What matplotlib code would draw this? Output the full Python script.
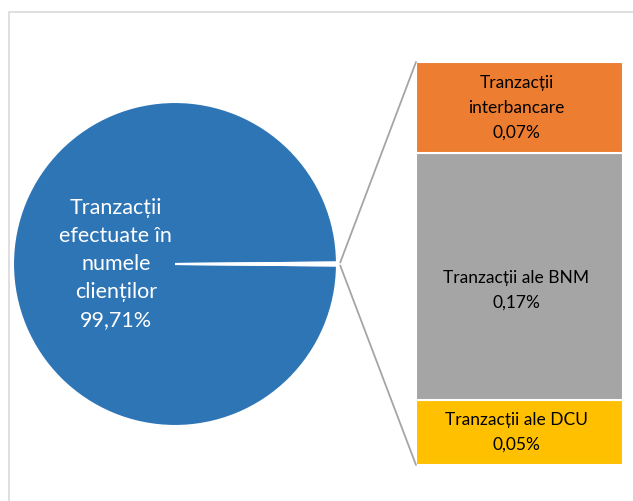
import matplotlib.pyplot as plt
from matplotlib.patches import ConnectionPatch, Rectangle
import numpy as np

plt.rcParams['font.family'] = ['Lato', 'DejaVu Sans']

# date
pie_labels = ['Tranzacții\nefectuate în\nnumele\nclienților\n99,71%', '']
pie_vals = [99.71, 0.29]
bar_labels = ['Tranzacții ale DCU\n0,05%', 'Tranzacții ale BNM\n0,17%', 'Tranzacții\ninterbancare\n0,07%']
bar_vals = [0.047, 0.178, 0.066]
bar_colors = ['#FFC000', '#A5A5A5', '#ED7D31']

W, H = 633, 501
fig = plt.figure(figsize=(W / 100, H / 100), dpi=100)

# chenarul graficului
fig.patches.append(Rectangle((9 / W, -0.1), 1.2, (H - 12) / H + 0.1, transform=fig.transFigure,
                             fill=False, edgecolor='#D9D9D9', linewidth=1.2))

# placinta
ax1 = fig.add_axes([13 / W, (H - 426) / H, 324 / W, 324 / H])
half = pie_vals[1] / 100 * 360 / 2
wedges, _ = ax1.pie(pie_vals, colors=['#2E75B6', 'white'], startangle=half, counterclock=True,
                    wedgeprops=dict(edgecolor='white', linewidth=1.5))
ax1.set_xlim(-1, 1)
ax1.set_ylim(-1, 1)
ax1.set_aspect('equal')
ax1.text(-0.365, 0.0, pie_labels[0], ha='center', va='center', color='white',
         fontsize=15.5, linespacing=1.5)

# bara
ax2 = fig.add_axes([416 / W, (H - 465) / H, 207 / W, 403 / H])
bottom = 0
for v, c, lab in zip(bar_vals, bar_colors, bar_labels):
    ax2.bar(0, v, bottom=bottom, width=1, color=c, edgecolor='white', linewidth=1.5)
    yc = bottom + v / 2
    if 'BNM' in lab:
        yc -= 0.01
    ax2.text(-0.015, yc, lab, ha='center', va='center', fontsize=12.5, color='#000000', linespacing=1.7)
    bottom += v
ax2.set_xlim(-0.5, 0.5)
ax2.set_ylim(0, bottom)
ax2.axis('off')

# linii de legatura
r = 1.02
for ang, yb in [(half, 1), (-half, 0)]:
    t = np.deg2rad(ang)
    con = ConnectionPatch(xyA=(r * np.cos(t), r * np.sin(t)), coordsA=ax1.transData,
                          xyB=(0, yb), coordsB=ax2.transAxes, color='#A5A5A5', linewidth=1.3)
    fig.add_artist(con)

fig.savefig('out.png', dpi=100)
